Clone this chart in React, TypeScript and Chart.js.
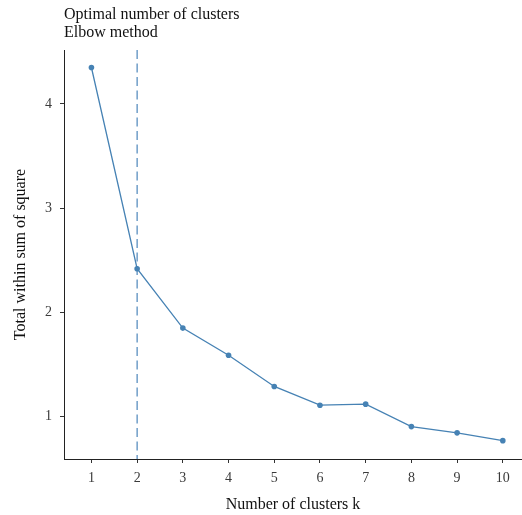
import React, { useEffect, useRef } from "react";
import { Chart, registerables } from "chart.js";

Chart.register(...registerables);

const clusters = [1, 2, 3, 4, 5, 6, 7, 8, 9, 10];
const wss = [4.35, 2.42, 1.85, 1.59, 1.29, 1.11, 1.12, 0.905, 0.845, 0.77];
const optimalK = 2;
const xTicks = [1, 2, 3, 4, 5, 6, 7, 8, 9, 10];
const yTicks = [1, 2, 3, 4];
const titleText = "Optimal number of clusters";
const subtitleText = "Elbow method";
const xTitle = "Number of clusters k";
const yTitle = "Total within sum of square";

const X_MIN = 0.4;
const X_MAX = 10.42;
const Y_MIN = 0.594;
const Y_MAX = 4.518;

const FONT = "'Liberation Serif', 'Times New Roman', serif";
const STEEL = "#4682B4";

const titlePlugin = {
  id: "ggTitle",
  afterDraw(chart: any) {
    const ctx = chart.ctx;
    ctx.save();
    ctx.fillStyle = "#111";
    ctx.font = `16px ${FONT}`;
    ctx.textAlign = "left";
    ctx.textBaseline = "alphabetic";
    const left = chart.chartArea.left;
    ctx.fillText(titleText, left, 19);
    ctx.fillText(subtitleText, left, 36.5);
    ctx.restore();
  },
};

export default function App() {
  const ref = useRef<HTMLCanvasElement | null>(null);

  useEffect(() => {
    if (!ref.current) return;
    const chart = new Chart(ref.current, {
      type: "line",
      data: {
        datasets: [
          {
            data: clusters.map((k, i) => ({ x: k, y: wss[i] })),
            borderColor: STEEL,
            backgroundColor: STEEL,
            borderWidth: 1.3,
            pointRadius: 2.8,
            pointBorderWidth: 0,
            pointBackgroundColor: STEEL,
            tension: 0,
          },
          {
            data: [
              { x: optimalK, y: Y_MAX },
              { x: optimalK, y: Y_MIN },
            ],
            borderColor: "#5a8fc0",
            borderWidth: 1.3,
            borderDash: [9, 4.5],
            pointRadius: 0,
          },
        ],
      },
      options: {
        animation: false,
        responsive: false,
        devicePixelRatio: 1,
        layout: { autoPadding: false, padding: { top: 50, left: 0, right: 0, bottom: 0 } },
        plugins: {
          legend: { display: false },
          tooltip: { enabled: false },
          title: { display: false },
        },
        scales: {
          x: {
            type: "linear",
            min: X_MIN,
            max: X_MAX,
            afterBuildTicks: (s: any) => {
              s.ticks = xTicks.map((v) => ({ value: v }));
            },
            afterFit: (s: any) => {
              s.height = 56;
              s.paddingRight = 0;
              s.paddingLeft = 0;
            },
            grid: {
              display: true,
              drawOnChartArea: false,
              drawTicks: true,
              tickLength: 4,
              color: "#333",
              lineWidth: 1,
            },
            border: { display: true, color: "#222", width: 1 },
            ticks: {
              color: "#3a3a3a",
              font: { family: FONT, size: 14 },
              padding: 7,
              maxRotation: 0,
              autoSkip: false,
              callback: (v: any) => String(v),
            },
            title: {
              display: true,
              text: xTitle,
              color: "#111",
              font: { family: FONT, size: 16 },
              padding: { top: 0, bottom: 1 },
            },
          },
          y: {
            type: "linear",
            min: Y_MIN,
            max: Y_MAX,
            afterBuildTicks: (s: any) => {
              s.ticks = yTicks.map((v) => ({ value: v }));
            },
            afterFit: (s: any) => {
              s.width = 64;
              s.paddingTop = 0;
              s.paddingBottom = 0;
            },
            grid: {
              display: true,
              drawOnChartArea: false,
              drawTicks: true,
              tickLength: 4,
              color: "#333",
              lineWidth: 1,
            },
            border: { display: true, color: "#222", width: 1 },
            ticks: {
              color: "#3a3a3a",
              font: { family: FONT, size: 14 },
              padding: 8,
              autoSkip: false,
              callback: (v: any) => String(v),
            },
            title: {
              display: true,
              text: yTitle,
              color: "#111",
              font: { family: FONT, size: 16 },
              padding: { top: 11, bottom: 0 },
            },
          },
        },
      },
      plugins: [titlePlugin],
    });
    return () => chart.destroy();
  }, []);

  return (
    <div style={{ position: "absolute", left: 0, top: 0, width: 522, height: 515, background: "#fff" }}>
      <canvas ref={ref} width={522} height={515} />
    </div>
  );
}
